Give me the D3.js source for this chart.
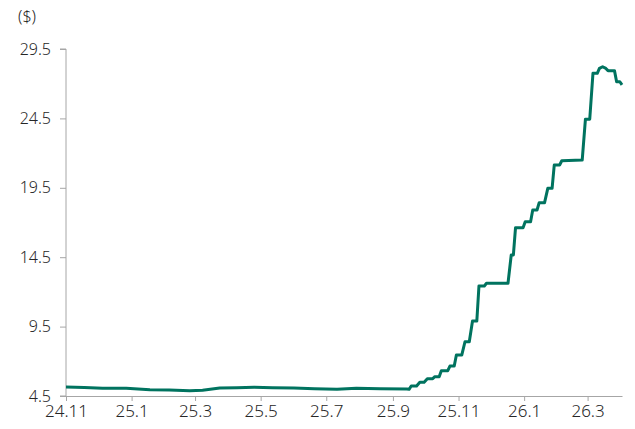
<!DOCTYPE html>
<html>
<head>
<meta charset="utf-8">
<script src="https://cdn.jsdelivr.net/npm/d3@7"></script>
<style>
  html, body { margin: 0; padding: 0; background: #fff; }
  svg { display: block; }
  text { font-family: "Noto Sans", "Open Sans", sans-serif; fill: #262626; }
</style>
</head>
<body>
<svg id="chart" width="635" height="429"></svg>
<script>
// ---- data ----
const dates = [
  "2024-11-01","2024-11-18","2024-12-05","2024-12-27","2025-01-18","2025-02-05","2025-02-24",
  "2025-03-08","2025-03-24","2025-04-09","2025-04-25","2025-05-12","2025-06-01","2025-06-20",
  "2025-07-11","2025-07-29","2025-08-20","2025-09-14","2025-09-16","2025-09-18","2025-09-23",
  "2025-09-26","2025-09-30","2025-10-03","2025-10-08","2025-10-10","2025-10-14","2025-10-16",
  "2025-10-22","2025-10-24","2025-10-28","2025-10-30","2025-11-04","2025-11-07","2025-11-11",
  "2025-11-14","2025-11-18","2025-11-20","2025-11-25","2025-11-27","2025-12-17","2025-12-20",
  "2025-12-22","2025-12-24","2025-12-31","2026-01-02","2026-01-07","2026-01-09","2026-01-13",
  "2026-01-15","2026-01-20","2026-01-23","2026-01-27","2026-01-29","2026-02-03","2026-02-05",
  "2026-02-24","2026-02-27","2026-03-03","2026-03-06","2026-03-10","2026-03-12","2026-03-15",
  "2026-03-18","2026-03-20","2026-03-26","2026-03-28","2026-03-31","2026-04-02"
];
const prices = [
  5.15,5.12,5.05,5.05,4.95,4.93,4.88,
  4.92,5.08,5.10,5.13,5.10,5.08,5.02,
  4.98,5.05,5.03,5.00,4.98,5.22,5.22,
  5.49,5.49,5.75,5.75,5.89,5.89,6.32,
  6.32,6.66,6.66,7.45,7.45,8.41,8.41,
  9.90,9.90,12.43,12.43,12.62,12.62,14.66,
  14.66,16.63,16.63,17.06,17.06,17.90,17.90,
  18.43,18.43,19.46,19.46,21.14,21.14,21.45,
  21.50,24.44,24.44,27.75,27.75,28.10,28.22,
  28.10,27.94,27.94,27.14,27.14,26.91
];
const yTicks = [4.5, 9.5, 14.5, 19.5, 24.5, 29.5];
const xTickDates = ["2024-11-01","2025-01-01","2025-03-01","2025-05-01","2025-07-01","2025-09-01","2025-11-01","2026-01-01","2026-03-01"];
const xTickLabels = ["24.11","25.1","25.3","25.5","25.7","25.9","25.11","26.1","26.3"];
const unitLabel = "($)";
const xStart = "2024-11-01", xEnd = "2026-04-02";

// ---- chart ----
const parse = d3.timeParse("%Y-%m-%d");
const data = dates.map((d, i) => ({ date: parse(d), value: prices[i] }));
const margin = { top: 49, right: 13, bottom: 33, left: 66 };
const W = 635, H = 429;
const svg = d3.select("#chart");
const g = svg.append("g").attr("transform", `translate(${margin.left},${margin.top})`);
const iw = W - margin.left - margin.right, ih = H - margin.top - margin.bottom;

const x = d3.scaleTime().domain([parse(xStart), parse(xEnd)]).range([0, iw]);
const y = d3.scaleLinear().domain([4.5, 29.5]).range([ih, 0]);

const axisColor = "#a6a6a6";

const yAxis = g.append("g")
  .call(d3.axisLeft(y).tickValues(yTicks).tickFormat(d3.format(".1f")).tickSize(6).tickPadding(9));
const xAxis = g.append("g").attr("transform", `translate(0,${ih})`)
  .call(d3.axisBottom(x).tickValues(xTickDates.map(parse))
    .tickFormat((d, i) => xTickLabels[i]).tickSize(5).tickSizeOuter(0).tickPadding(4));
[yAxis, xAxis].forEach(a => {
  a.select(".domain").attr("stroke", axisColor).attr("stroke-width", 1);
  a.selectAll(".tick line").attr("stroke", axisColor);
  a.selectAll("text").attr("fill", "#262626").attr("font-weight", 300)
    .attr("font-family", "'Noto Sans', sans-serif");
});
yAxis.selectAll("text").attr("font-size", 16);
xAxis.selectAll("text").attr("font-size", 17);
yAxis.select(".domain").attr("d", `M-6,${ih}H0V0H-6`);

g.append("path").datum(data)
  .attr("fill", "none")
  .attr("stroke", "#00735f")
  .attr("stroke-width", 3)
  .attr("stroke-linejoin", "round")
  .attr("d", d3.line().x(d => x(d.date)).y(d => y(d.value)));

svg.append("text").attr("x", 27).attr("y", 22).attr("text-anchor", "middle")
  .attr("font-weight", 300).attr("font-size", 16).text(unitLabel);
</script>
</body>
</html>
